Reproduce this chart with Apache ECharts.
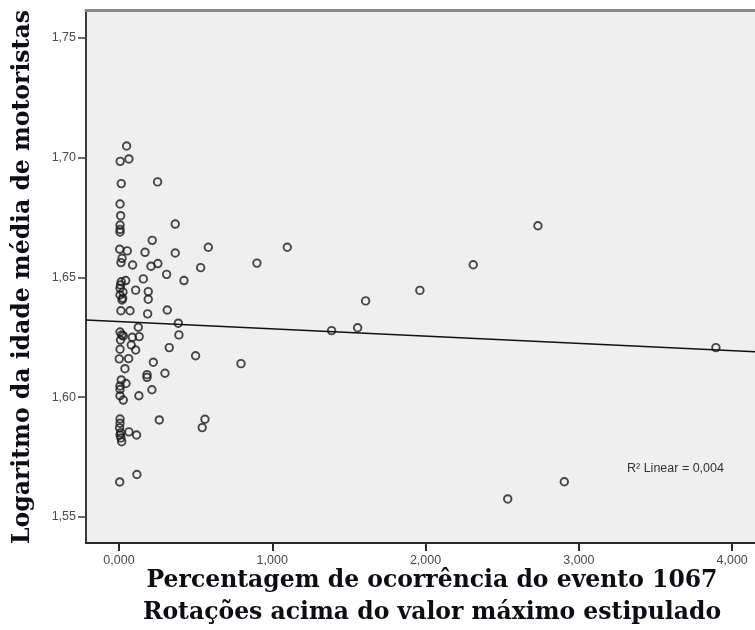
<!DOCTYPE html>
<html>
<head>
<meta charset="utf-8">
<script src="https://cdn.jsdelivr.net/npm/echarts@6/dist/echarts.min.js"></script>
<style>
  html, body { margin: 0; padding: 0; background: #ffffff; }
  #chart { width: 755px; height: 630px; }
</style>
</head>
<body>
<div id="chart"></div>
<script>
// Percentage of occurrences of event 1067 (x) per driver group
const eventPct = [
  0.050, 0.065, 0.008, 0.015, 0.252, 0.007, 0.011, 0.007, 0.007, 0.007,
  0.367, 0.217, 0.005, 0.054, 0.170, 0.367, 0.020, 0.013, 0.089, 0.209,
  0.254, 0.311, 0.424, 0.159, 0.044, 0.015, 0.007, 0.109, 0.191, 0.007,
  0.024, 0.191, 0.020, 0.013, 0.072, 0.187, 0.315, 0.387, 0.126, 0.007,
  0.018, 0.028, 0.087, 0.132, 0.391, 0.007, 0.080, 0.109, 0.328, 0.002,
  0.063, 0.039, 0.224, 0.183, 0.183, 0.300, 0.015, 0.007, 0.046, 0.215,
  0.130, 0.007, 0.028, 0.263, 0.007, 0.007, 0.011, 0.007, 0.065, 0.115,
  0.018, 0.117, 0.005, 0.004, 0.013, 0.010, 0.026, 0.010, 0.007,
  0.583, 1.098, 0.533, 0.900, 1.609, 1.387, 1.557, 0.500, 0.796, 0.561,
  0.543, 2.733, 2.311, 1.963, 3.894, 2.905, 2.536
];
// Log of mean driver age (y), same order as eventPct
const logAge = [
  1.7049, 1.6995, 1.6985, 1.6892, 1.6899, 1.6807, 1.6758, 1.6719, 1.6701, 1.6690,
  1.6723, 1.6655, 1.6618, 1.6611, 1.6605, 1.6602, 1.6580, 1.6562, 1.6552, 1.6547,
  1.6558, 1.6513, 1.6487, 1.6494, 1.6487, 1.6482, 1.6455, 1.6447, 1.6441, 1.6427,
  1.6413, 1.6409, 1.6406, 1.6361, 1.6361, 1.6348, 1.6364, 1.6309, 1.6292, 1.6272,
  1.6260, 1.6256, 1.6250, 1.6253, 1.6260, 1.6200, 1.6218, 1.6197, 1.6207, 1.6160,
  1.6161, 1.6119, 1.6146, 1.6094, 1.6083, 1.6100, 1.6072, 1.6047, 1.6057, 1.6031,
  1.6006, 1.6006, 1.5988, 1.5905, 1.5909, 1.5891, 1.5852, 1.5842, 1.5855, 1.5842,
  1.5814, 1.5677, 1.5646, 1.5872, 1.5830, 1.6469, 1.6439, 1.6239, 1.6032,
  1.6626, 1.6626, 1.6541, 1.6560, 1.6402, 1.6278, 1.6290, 1.6173, 1.6140, 1.5908,
  1.5873, 1.6716, 1.6553, 1.6446, 1.6207, 1.5647, 1.5575
];
// Linear fit line end points
const fitX = [-0.215, 4.149];
const fitY = [1.6322, 1.6190];
const r2Label = 'R² Linear = 0,004';

// Axis ticks
const xTicks = [0, 1, 2, 3, 4];
const yTicks = [1.55, 1.60, 1.65, 1.70, 1.75];

const xTitle1 = 'Percentagem de ocorrência do evento 1067';
const xTitle2 = 'Rotações acima do valor máximo estipulado';
const yTitle = 'Logaritmo da idade média de motoristas';

const points = eventPct.map((x, i) => [x, logAge[i]]);
const fitLine = fitX.map((x, i) => [x, fitY[i]]);

const chart = echarts.init(document.getElementById('chart'), null, { renderer: 'canvas' });

const titleFont = 'bold 23.5px "DejaVu Serif", serif';
const tickFont = { fontFamily: '"Liberation Sans", Arial, sans-serif', fontSize: 12.5, color: '#4a4a4a' };

chart.setOption({
  backgroundColor: '#ffffff',
  animation: false,
  grid: {
    left: 86, top: 10, right: 0, bottom: 87,
    show: true, backgroundColor: '#efefef', borderWidth: 0
  },
  xAxis: [{
    type: 'value',
    min: -0.215, max: 4.149,
    position: 'bottom',
    splitLine: { show: false },
    axisLine: { show: true, onZero: false, lineStyle: { color: '#2a2a2a', width: 2 } },
    axisTick: { show: true, length: 8, customValues: xTicks, lineStyle: { color: '#2a2a2a', width: 2 } },
    axisLabel: Object.assign({
      customValues: xTicks, margin: 11,
      formatter: v => v.toFixed(3).replace('.', ',')
    }, tickFont)
  }, {
    type: 'value',
    min: -0.215, max: 4.149,
    position: 'top',
    splitLine: { show: false },
    axisLine: { show: true, onZero: false, lineStyle: { color: '#8a8a8a', width: 3 } },
    axisTick: { show: false },
    axisLabel: { show: false }
  }],
  yAxis: {
    type: 'value',
    min: 1.5391, max: 1.7617,
    splitLine: { show: false },
    axisLine: { show: true, onZero: false, lineStyle: { color: '#3a3a3a', width: 2 } },
    axisTick: { show: true, length: 8, customValues: yTicks, lineStyle: { color: '#3a3a3a', width: 1.5 } },
    axisLabel: Object.assign({
      customValues: yTicks, margin: 10,
      formatter: v => v.toFixed(2).replace('.', ',')
    }, tickFont)
  },
  series: [{
    type: 'scatter',
    data: points,
    symbol: 'circle',
    symbolSize: 7.5,
    itemStyle: { color: 'rgba(0,0,0,0)', borderColor: '#1a1a1a', borderWidth: 1.9 },
    z: 3
  }, {
    type: 'line',
    data: fitLine,
    showSymbol: false,
    symbol: 'none',
    lineStyle: { color: '#111111', width: 1.5 },
    z: 4
  }],
  graphic: [{
    type: 'text',
    x: 23, y: 277,
    rotation: Math.PI / 2,
    style: { text: yTitle, font: titleFont, fill: '#0d0d14', textAlign: 'center', textVerticalAlign: 'middle' }
  }, {
    type: 'text',
    x: 432, y: 581,
    style: { text: xTitle1, font: titleFont, fill: '#0d0d14', textAlign: 'center', textVerticalAlign: 'middle' }
  }, {
    type: 'text',
    x: 432, y: 613,
    style: { text: xTitle2, font: titleFont, fill: '#0d0d14', textAlign: 'center', textVerticalAlign: 'middle' }
  }, {
    type: 'text',
    x: 627, y: 469,
    style: { text: r2Label, font: '12.5px "Liberation Sans", Arial, sans-serif', fill: '#333333', textAlign: 'left', textVerticalAlign: 'middle' }
  }]
});
</script>
</body>
</html>
